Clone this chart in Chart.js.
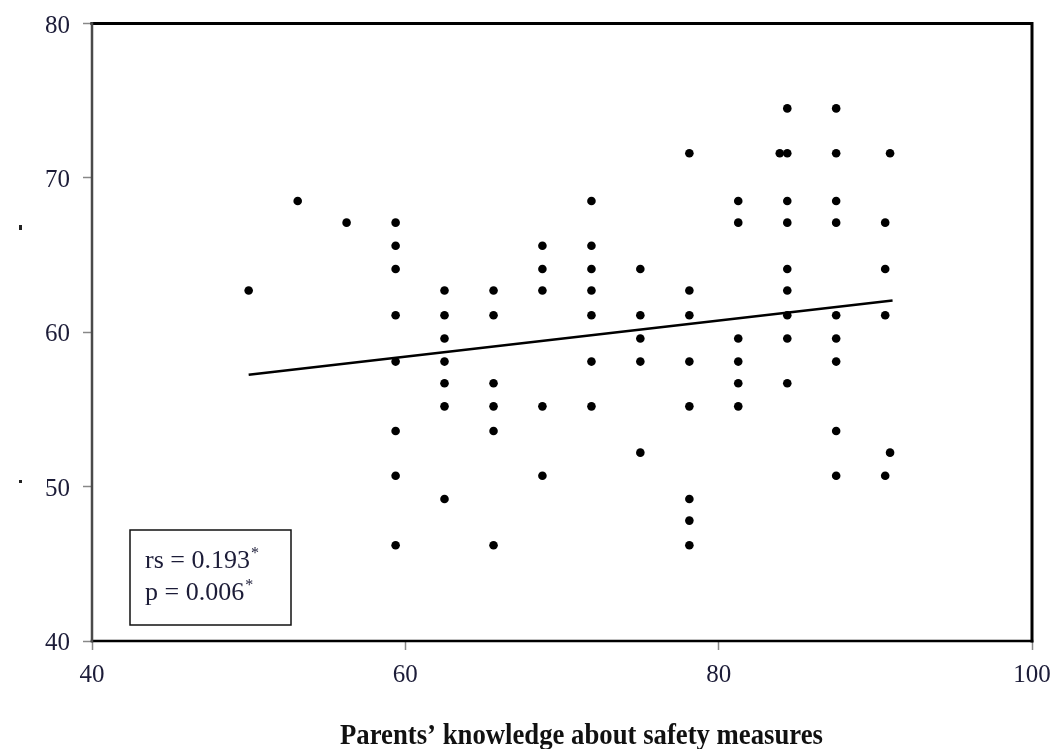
<!DOCTYPE html>
<html>
<head>
<meta charset="utf-8">
<script src="https://cdn.jsdelivr.net/npm/chart.js@4"></script>
<style>
  body { margin: 0; background: #fff; }
  canvas { display: block; }
</style>
</head>
<body>
<canvas id="scatter" width="1054" height="749"></canvas>
<script>
// parents' knowledge score (x) and outcome score (y), one entry per child
var knowledge = [
  50, 53.13, 56.25,
  59.38, 59.38, 59.38, 59.38, 59.38, 59.38, 59.38, 59.38,
  62.5, 62.5, 62.5, 62.5, 62.5, 62.5, 62.5,
  65.63, 65.63, 65.63, 65.63, 65.63, 65.63,
  68.75, 68.75, 68.75, 68.75, 68.75,
  71.88, 71.88, 71.88, 71.88, 71.88, 71.88, 71.88,
  75, 75, 75, 75, 75,
  78.13, 78.13, 78.13, 78.13, 78.13, 78.13, 78.13, 78.13,
  81.25, 81.25, 81.25, 81.25, 81.25, 81.25,
  83.9,
  84.38, 84.38, 84.38, 84.38, 84.38, 84.38, 84.38, 84.38, 84.38,
  87.5, 87.5, 87.5, 87.5, 87.5, 87.5, 87.5, 87.5, 87.5,
  90.63, 90.63, 90.63, 90.63,
  90.94, 90.94
];
var score = [
  62.7, 68.5, 67.1,
  67.1, 65.6, 64.1, 61.1, 58.1, 53.6, 50.7, 46.2,
  62.7, 61.1, 59.6, 58.1, 56.7, 55.2, 49.2,
  62.7, 61.1, 56.7, 55.2, 53.6, 46.2,
  65.6, 64.1, 62.7, 55.2, 50.7,
  68.5, 65.6, 64.1, 62.7, 61.1, 58.1, 55.2,
  64.1, 61.1, 59.6, 58.1, 52.2,
  71.6, 62.7, 61.1, 58.1, 55.2, 49.2, 47.8, 46.2,
  68.5, 67.1, 59.6, 58.1, 56.7, 55.2,
  71.6,
  74.5, 71.6, 68.5, 67.1, 64.1, 62.7, 61.1, 59.6, 56.7,
  74.5, 71.6, 68.5, 67.1, 61.1, 59.6, 58.1, 53.6, 50.7,
  67.1, 64.1, 61.1, 50.7,
  71.6, 52.2
];

// fitted line ends
var trendX = [50, 91.1];
var trendY = [57.25, 62.05];

var xTicks = [40, 60, 80, 100];
var yTicks = [40, 50, 60, 70, 80];

var statLines = ['rs = 0.193', 'p = 0.006'];
var xTitle = 'Parents\u2019 knowledge about safety measures';

var points = knowledge.map(function(k, i) { return {x: k, y: score[i]}; });
var trend = trendX.map(function(t, i) { return {x: t, y: trendY[i]}; });

var serif = "'Liberation Serif', 'Times New Roman', serif";
var inkText = '#1c1c38';

var decor = {
  id: 'decor',
  afterDraw: function(chart) {
    var ctx = chart.ctx, ca = chart.chartArea;
    ctx.save();
    // frame
    ctx.lineCap = 'square';
    ctx.strokeStyle = '#000';
    ctx.lineWidth = 3;
    ctx.beginPath();
    ctx.moveTo(ca.left, ca.top);
    ctx.lineTo(ca.right, ca.top);
    ctx.lineTo(ca.right, ca.bottom);
    ctx.stroke();
    ctx.lineWidth = 2.5;
    ctx.beginPath();
    ctx.moveTo(ca.left, ca.bottom);
    ctx.lineTo(ca.right, ca.bottom);
    ctx.stroke();
    ctx.strokeStyle = '#4a4a4a';
    ctx.beginPath();
    ctx.moveTo(ca.left, ca.top);
    ctx.lineTo(ca.left, ca.bottom);
    ctx.stroke();

    // stats box
    var bx = ca.left + 38, by = ca.bottom - 111;
    ctx.lineWidth = 1.5;
    ctx.strokeStyle = '#111';
    ctx.fillStyle = '#fff';
    ctx.fillRect(bx, by, 161, 95);
    ctx.strokeRect(bx, by, 161, 95);
    ctx.fillStyle = inkText;
    ctx.textBaseline = 'alphabetic';
    ctx.textAlign = 'left';
    statLines.forEach(function(s, i) {
      var ty = by + 38 + i * 32;
      ctx.font = '26px ' + serif;
      ctx.fillText(s, bx + 15, ty);
      var w = ctx.measureText(s).width;
      ctx.font = '16px ' + serif;
      ctx.fillText('*', bx + 16 + w, ty - 10);
    });

    // x axis title, narrow bold serif
    ctx.font = 'bold 30px ' + serif;
    ctx.fillStyle = '#111';
    var tw = ctx.measureText(xTitle).width;
    ctx.translate(340, 744);
    ctx.scale(483 / tw, 1);
    ctx.fillText(xTitle, 0, 0);
    ctx.setTransform(1, 0, 0, 1, 0, 0);

    // stray marks left of the y axis
    ctx.fillStyle = '#222';
    ctx.fillRect(19, 225, 3, 5);
    ctx.fillRect(19, 480, 3, 3);
    ctx.restore();
  }
};

new Chart(document.getElementById('scatter'), {
  type: 'scatter',
  data: {
    datasets: [
      {
        label: 'children',
        data: points,
        backgroundColor: '#000',
        borderWidth: 0,
        pointRadius: 4.3,
        pointHoverRadius: 4.3
      },
      {
        type: 'line',
        label: 'fit',
        data: trend,
        borderColor: '#000',
        borderWidth: 2.5,
        pointRadius: 0,
        fill: false
      }
    ]
  },
  options: {
    responsive: false,
    animation: false,
    layout: { autoPadding: false, padding: { top: 23.5, right: 22, left: 0, bottom: 0 } },
    plugins: {
      legend: { display: false },
      tooltip: { enabled: false }
    },
    scales: {
      x: {
        type: 'linear',
        min: xTicks[0],
        max: xTicks[xTicks.length - 1],
        afterBuildTicks: function(s) { s.ticks = xTicks.map(function(v) { return {value: v}; }); },
        afterFit: function(s) { s.height = 108; s.paddingLeft = 0; s.paddingRight = 0; },
        ticks: { font: { family: serif, size: 25 }, color: inkText, padding: 10, maxRotation: 0 },
        grid: { drawOnChartArea: false, tickLength: 9, color: '#888', tickWidth: 1.5 },
        border: { display: false }
      },
      y: {
        min: yTicks[0],
        max: yTicks[yTicks.length - 1],
        afterBuildTicks: function(s) { s.ticks = yTicks.map(function(v) { return {value: v}; }); },
        afterFit: function(s) { s.width = 92; s.paddingTop = 0; s.paddingBottom = 0; },
        ticks: { font: { family: serif, size: 25 }, color: inkText, padding: 13, labelOffset: 2.5 },
        grid: { drawOnChartArea: false, tickLength: 9, color: '#888', tickWidth: 1.5 },
        border: { display: false }
      }
    }
  },
  plugins: [decor]
});
</script>
</body>
</html>
